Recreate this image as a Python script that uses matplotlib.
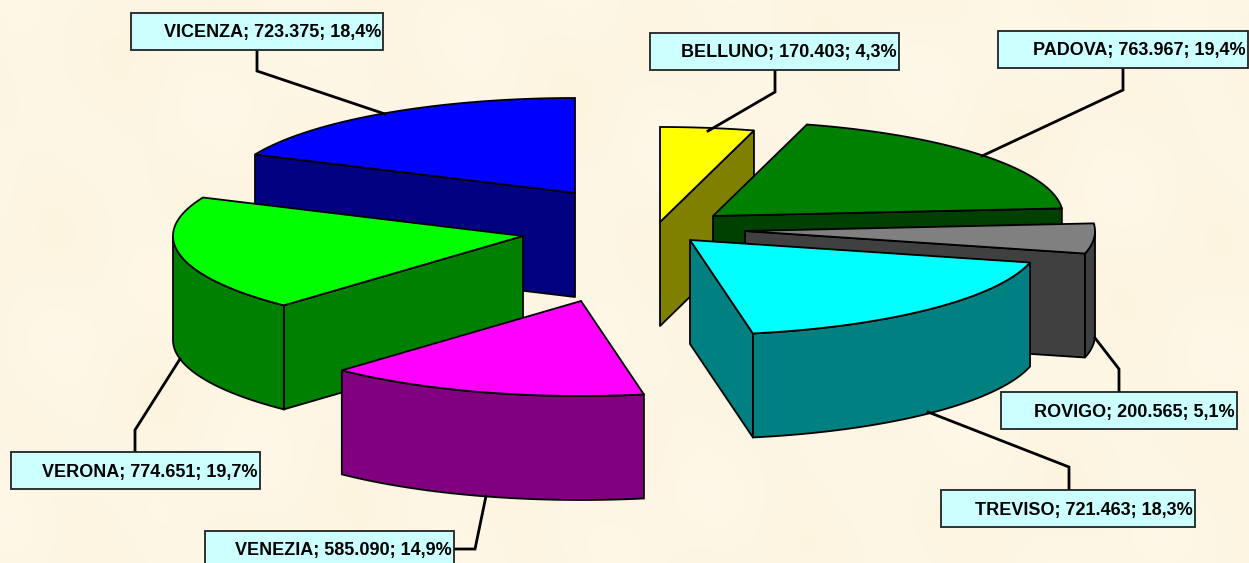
# Veneto provinces, exploded 3D pie

import numpy as np
import matplotlib.pyplot as plt
from matplotlib.patches import Polygon, Rectangle

plt.rcParams['font.family'] = ['Liberation Sans', 'DejaVu Sans']

# chart data
names = ["BELLUNO", "PADOVA", "ROVIGO", "TREVISO", "VENEZIA", "VERONA", "VICENZA"]
values = [170403, 763967, 200565, 721463, 585090, 774651, 723375]

# styling per slice
top_colors = ["#FFFF00", "#008000", "#808080", "#00FFFF", "#FF00FF", "#00FF00", "#0000FF"]
side_colors = ["#808000", "#004000", "#404040", "#008080", "#800080", "#008000", "#000080"]

# where the tip of each exploded slice sits, in pixels
tip_x = [660, 713, 745, 690, 581, 523, 575]
tip_y = [222, 216, 231, 240, 301, 236, 193]

# label boxes (left, top, right, bottom) and their leader lines
boxes = [(650, 33, 899, 70), (998, 31, 1248, 68), (1001, 392, 1237, 429),
         (941, 490, 1195, 527), (205, 531, 454, 568), (11, 452, 260, 489),
         (131, 13, 383, 50)]
leaders = [[(775, 70), (775, 92), (708, 131)],
           [(1123, 68), (1123, 90), (982, 156)],
           [(1119, 392), (1119, 369), (1095, 338)],
           [(1069, 490), (1069, 467), (928, 412)],
           [(454, 549), (475, 549), (486, 496)],
           [(135, 452), (135, 430), (180, 359)],
           [(257, 50), (257, 71), (385, 114)]]

RX, RY = 350, 95  # ellipse radii of the tilted pie
DEPTH = 104
draw_order = [6, 5, 4, 0, 1, 2, 3]  # back to front


def arc(ax_, ay_, a0, a1):
    # angles clockwise from 12 o'clock, degrees
    t = np.radians(np.linspace(a0, a1, max(int(abs(a1 - a0) * 2), 2)))
    return np.column_stack([ax_ + RX * np.sin(t), ay_ - RY * np.cos(t)])


def radial_face(ax, tip, end, mid, color):
    # only draw if the inside of the slice is above this edge on screen
    if abs(end[0] - tip[0]) < 1:
        return
    line_y = tip[1] + (end[1] - tip[1]) * (mid[0] - tip[0]) / (end[0] - tip[0])
    if mid[1] < line_y:
        pts = [tip, end, (end[0], end[1] + DEPTH), (tip[0], tip[1] + DEPTH)]
        ax.add_patch(Polygon(pts, fc=color, ec="black", lw=1.3, joinstyle="round"))


fig = plt.figure(figsize=(12.49, 5.63), dpi=100)
ax = fig.add_axes([0, 0, 1, 1])

# mottled paper background
yy, xx = np.mgrid[0:563, 0:1249]
mottle = (np.sin(xx / 37 + yy / 61) + np.sin(xx / 23 - yy / 41 + 1.3) + np.sin(xx / 97 + yy / 29 + 2.1)) / 3
bg = np.dstack([254 + 0.5 * mottle, 246 + 2 * mottle, 228 + 4 * mottle]) / 255
ax.imshow(bg, extent=(0, 1249, 563, 0), aspect="auto", zorder=0)

total = sum(values)
edges = np.cumsum([0] + values) / total * 360

for i in draw_order:
    tip = (tip_x[i], tip_y[i])
    a0, a1 = edges[i], edges[i + 1]
    outer = arc(tip[0], tip[1], a0, a1)
    mid = arc(tip[0], tip[1], (a0 + a1) / 2, (a0 + a1) / 2 + 0.1)[0]

    radial_face(ax, tip, tuple(outer[0]), mid, side_colors[i])
    radial_face(ax, tip, tuple(outer[-1]), mid, side_colors[i])

    # outer wall shows only on the front half of the ellipse
    w0, w1 = max(a0, 90), min(a1, 270)
    if w1 > w0:
        wall = arc(tip[0], tip[1], w0, w1)
        pts = np.vstack([wall, wall[::-1] + [0, DEPTH]])
        ax.add_patch(Polygon(pts, fc=side_colors[i], ec="black", lw=1.3))

    ax.add_patch(Polygon(np.vstack([[tip], outer]), fc=top_colors[i], ec="black", lw=1.3))

for name, val, box, line in zip(names, values, boxes, leaders):
    xs, ys = zip(*line)
    ax.plot(xs, ys, color="black", lw=2.0, solid_joinstyle="miter")
    l, t, r, b = box
    ax.add_patch(Rectangle((l, t), r - l, b - t, fc="#CCFFFF", ec="#222222", lw=1.3, zorder=4))
    pct = f"{100 * val / total:.1f}".replace(".", ",")
    label = f"{name}; {val:,}".replace(",", ".") + f"; {pct}%"
    ax.text(r - 2, (t + b) / 2 + 1.5, label, ha="right", va="center", fontsize=13,
            fontweight="bold", color="black", zorder=5)

ax.set_xlim(0, 1249)
ax.set_ylim(563, 0)
ax.axis("off")
fig.savefig("out.png", dpi=100)
